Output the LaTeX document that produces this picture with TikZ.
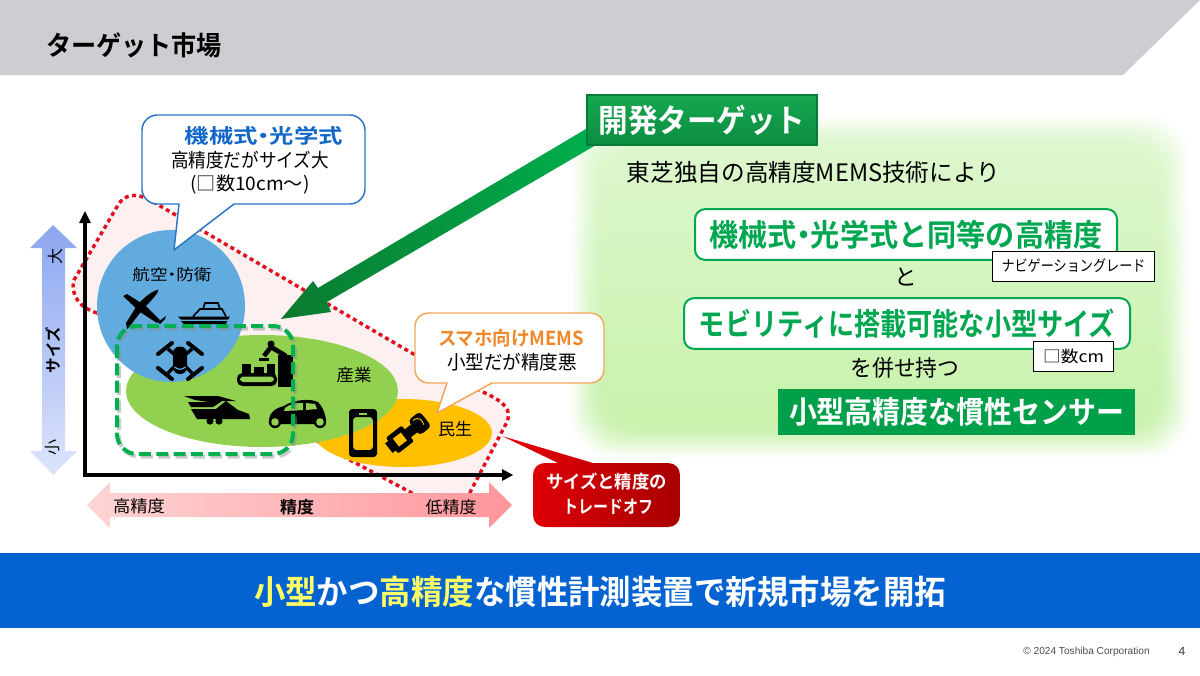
\documentclass[tikz,border=0pt]{standalone}
\usepackage{fontspec}
\usepackage{graphicx}
\setmainfont{Noto Sans CJK JP}[BoldFont={Noto Sans CJK JP Bold}]
\newfontfamily\footfont{Liberation Sans}
\newlength\fwl
\newcommand{\fw}[2]{\setlength{\fwl}{#1pt}\setlength{\fwl}{0.75\fwl}\resizebox{\fwl}{\height}{#2}}
\newcommand{\szz}[1]{\fontsize{#1}{#1}\selectfont}
\newcommand{\nd}{\hspace{-.26em}・\hspace{-.26em}}
\definecolor{bandblue}{HTML}{0563D1}
\definecolor{bannergray}{HTML}{CDCDD2}
\definecolor{tgreen}{HTML}{00A650}
\definecolor{dgreen}{HTML}{00B050}
\definecolor{sky}{HTML}{62ABDE}
\definecolor{leaf}{HTML}{92D050}
\definecolor{amber}{HTML}{FFC000}
\definecolor{glowT}{HTML}{DDF7CD}
\definecolor{glowB}{HTML}{C8F2AC}
\definecolor{calloutblue}{HTML}{2A74C8}
\definecolor{calloutorange}{HTML}{F2A65A}
\definecolor{titleblue}{HTML}{1167C8}
\definecolor{titleorange}{HTML}{F0882A}
\definecolor{dotred}{HTML}{E0101E}
\definecolor{pinkarea}{HTML}{FDF0F0}
\definecolor{sizetop}{HTML}{8CA5F0}
\definecolor{sizebot}{HTML}{DDE5FC}
\definecolor{accl}{HTML}{FFD4D4}
\definecolor{accr}{HTML}{FF969C}
\definecolor{arrl}{HTML}{0A7A30}
\definecolor{arrm}{HTML}{0C9A45}
\definecolor{arrr}{HTML}{00AF4E}
\definecolor{redl}{HTML}{E80008}
\definecolor{redr}{HTML}{A80000}
\definecolor{hdrt}{HTML}{16A850}
\definecolor{hdrb}{HTML}{0C8C42}
\definecolor{resgreen}{HTML}{00A04A}
\definecolor{bandyellow}{HTML}{FFFF66}
\tikzset{
  txt/.style={inner sep=0pt,outer sep=0pt,text=black},
  pill/.style={draw=tgreen,line width=1.5pt,fill=white,rounded corners=7.5pt},
  tag/.style={draw=black,line width=.7pt,fill=white},
  bluecall/.style={draw=calloutblue,line width=1.1pt,fill=white,line join=round},
  orangecall/.style={draw=calloutorange,line width=1.1pt,fill=white,line join=round},
}
\begin{document}
\begin{tikzpicture}[x=.75pt,y=-.75pt]
\useasboundingbox (0,0) rectangle (1200,675);
\fill[white] (0,0) rectangle (1200,675);
% banner
\fill[bannergray] (0,0) -- (1200,0) -- (1123,75) -- (0,75) -- cycle;
\node[txt,anchor=west] (title) at (46,45) {\szz{20pt}\bfseries\fw{176}{ターゲット市場}};
% glow panel
\foreach \i in {0,...,30}{
  \pgfmathsetmacro{\mix}{100*(sin(\i*3))^1.3}
  \pgfmathsetmacro{\inset}{\i*1.25}
  \path[top color=glowT!\mix!white,bottom color=glowB!\mix!white,rounded corners=32pt] (568+\inset,112+\inset) rectangle (1192-\inset,460-\inset);
}
% tradeoff area
\path[fill=pinkarea,draw=dotred,line width=2.6pt,dash pattern=on 3pt off 2.6pt]
  (97,313) .. controls (80,308) and (70,295) .. (74,280) -- (118,205) .. controls (124,195) and (135,192) .. (150,200)
  -- (410,352) -- (483,392) .. controls (505,402) and (512,410) .. (507,422) -- (466,500) -- (425,500) -- (350,460) -- cycle;
% ellipses
\fill[amber] (403,433) ellipse (89 and 34);
\fill[leaf] (262,391) ellipse (136 and 56);
\fill[sky] (171,306) ellipse (74 and 76);
% axes
\coordinate (origin) at (85,475);
\coordinate (ytip) at (85,211);
\coordinate (xtip) at (513,475);
\draw[line width=2.5pt] (85,476.7) -- (85,221);
\fill (ytip) -- (91,223) -- (79,223) -- cycle;
\draw[line width=2.5pt] (83.5,475) -- (503,475);
\fill (xtip) -- (502,469) -- (502,481) -- cycle;
% size arrow
\path[top color=sizetop,bottom color=sizebot]
  (53,225) -- (77,248) -- (65,248) -- (65,451) -- (77,451) -- (53,475) -- (30,451) -- (42,451) -- (42,248) -- (30,248) -- cycle;
\node[txt,rotate=90] (big) at (55,256) {\szz{12pt}大};
\node[txt,rotate=90] (sizew) at (53,350) {\szz{12pt}\bfseries\fw{46}{サイズ}};
\node[txt,rotate=90] (small) at (53,447) {\szz{12pt}小};
% accuracy arrow
\path[left color=accl,right color=accr]
  (87,505) -- (110,482) -- (110,493) -- (489,493) -- (489,482) -- (512,505) -- (489,528) -- (489,517) -- (110,517) -- (110,528) -- cycle;
\node[txt] (hi) at (139,506) {\szz{12.5pt}\fw{52}{高精度}};
\node[txt] (acc) at (297,507) {\szz{12.5pt}\bfseries\fw{34}{精度}};
\node[txt] (lo) at (451,507) {\szz{12.5pt}\fw{51}{低精度}};
% green arrow
\path[left color=arrl,middle color=arrm,right color=arrr]
  (281,319) -- (313,281) -- (318,288) -- (596,123) -- (596,145) -- (327,302) -- (331,312) -- cycle;
% plane
\fill (158,289.5) .. controls (160,292) and (148,304) .. (143,309) -- (130,326) -- (127,329) -- (126,323) -- (133,312) .. controls (138,302) and (150,292) .. (158,289.5) -- cycle;
\fill (123,296) -- (127,294) -- (146,306) -- (160,320) -- (157,323) -- (140,312) -- cycle;
\fill (158,322) -- (166,316) -- (165,319) -- (160,324) -- cycle;
% ship
\fill (178,316.5) -- (230,316.5) -- (228,319.5) -- (181,319.5) -- cycle;
\fill (181,321) -- (227,321) -- (226,324) -- (184,324) -- cycle;
\draw[line width=1.2pt] (193,316.5) -- (200,309) -- (222,309) -- (226,316.5);
\draw[line width=1.2pt] (203,309) -- (205,303) -- (218,303) -- (220,309);
% drone
\foreach \sx/\sy/\ex/\ey in {168/349/180/359, 192/349/180/359, 168/373/180/361, 192/373/180/361}{
  \draw[line width=2.6pt] (\sx,\sy) -- (\ex,\ey);
}
\foreach \px/\py/\qx/\qy in {158/354/172/343, 188/343/202/354, 158/368/172/379, 188/379/202/368}{
  \draw[line width=3pt,line cap=round] (\px,\py) -- (\qx,\qy);
}
\fill[rounded corners=5pt] (173,346.5) rectangle (187,374);
\draw[sky,line width=.9pt] (174.5,367) .. controls (178,370) and (182,370) .. (185.5,367);
% factory
\fill[rounded corners=4pt] (237,373) rectangle (277,386);
\fill[leaf,rounded corners=2.5pt] (240,376.5) rectangle (274,382);
\fill (242,364) rectangle (251,374);
\fill (254,367) rectangle (264,374);
\fill (267,364) rectangle (275,374);
\fill (278,355) rectangle (293,387);
\draw[line width=3.5pt,line join=round] (286,356) -- (271,347) -- (264,356);
\fill (259,357.5) rectangle (269,361);
\fill (271,344) circle (3.5);
% train
\fill (184,396) -- (218,396) -- (236,401) -- (222,401) -- (213,407) -- (191,407) -- (188,402) -- (209,402) -- (195,400) -- cycle;
\fill (191,409) -- (216,409) -- (226,401) -- (238,410) -- (249,414) -- (250,419) -- (197,419) -- cycle;
\fill (210,421) circle (3.6) (219,421) circle (3.6);
% car
\fill (269,419) .. controls (270,412) and (276,408) .. (284,406) .. controls (292,400) and (310,398) .. (318,402) .. controls (322,406) and (325,412) .. (326,420) -- (325,424) -- (270,424) -- cycle;
\fill[leaf] (285,408) .. controls (290,404) and (296,403) .. (303,403) -- (303,410) -- (284,411) -- cycle;
\fill[leaf] (306,403) -- (315,404) -- (317,409) -- (306,410) -- cycle;
\fill (275,422) circle (6.2) (320,422) circle (6.2);
\fill[leaf] (275,422) circle (3.8) (320,422) circle (3.8);
% phone
\fill[even odd rule,rounded corners=2.5pt] (349,409) rectangle (377,457) (353,417) rectangle (373,450);
\fill[leaf] (359,412.5) rectangle (367,414.5);
% wrist band
\begin{scope}[shift={(407,434)},rotate=38]
  \fill[rounded corners=1.5pt] (-19,-10) rectangle (1,10);
  \fill[amber] (-14,-5) rectangle (-4,5);
  \fill (-23,-6) rectangle (-18,6);
  \fill (0,-5) rectangle (11,5);
  \fill[rounded corners=3pt] (9,-10) rectangle (24,9);
  \draw[amber,line width=.7pt] (13,-7) .. controls (20,-7) and (21,-2) .. (19,3);
\end{scope}
% labels in clusters
\node[txt] (aero) at (172,275) {\szz{11.6pt}\fw{79}{航空\nd 防衛}};
\node[txt] (indus) at (354,375) {\szz{12.7pt}\fw{35}{産業}};
\node[txt] (cons) at (455,429) {\szz{12.7pt}\fw{34}{民生}};
% dashed target
\draw[black!45,opacity=.45,line width=3pt,rounded corners=15pt,dash pattern=on 9pt off 4pt] (119,328.5) rectangle (295,456.5);
\draw[dgreen,line width=3pt,rounded corners=15pt,dash pattern=on 9pt off 4pt] (117,326) rectangle (293,454);
% blue callout
\draw[bluecall]
  (157,115) -- (350,115) .. controls (358,115) and (365,122) .. (365,130) -- (365,189)
  .. controls (365,197) and (358,204) .. (350,204) -- (234,204) -- (174,250) -- (179,204) -- (157,204)
  .. controls (149,204) and (142,197) .. (142,189) -- (142,130)
  .. controls (142,122) and (149,115) .. (157,115) -- cycle;
\node[txt,text=titleblue] (b1) at (264,136) {\szz{15pt}\bfseries\fw{158}{機械式\nd 光学式}};
\node[txt] (b2) at (250,160) {\szz{14.5pt}\fw{158}{高精度だがサイズ大}};
\node[txt] (b3) at (250,184) {\szz{14pt}\fw{119}{(□数10cm〜)}};
% orange callout
\draw[orangecall]
  (428,313) -- (591,313) .. controls (598,313) and (604,319) .. (604,326) -- (604,370)
  .. controls (604,377) and (598,383) .. (591,383) -- (492,383) -- (437,413) -- (447,383) -- (428,383)
  .. controls (421,383) and (415,377) .. (415,370) -- (415,326)
  .. controls (415,319) and (421,313) .. (428,313) -- cycle;
\node[txt,text=titleorange] (o1) at (511,338) {\szz{14.5pt}\bfseries\fw{146}{スマホ向けMEMS}};
\node[txt] (o2) at (512,362) {\szz{14.5pt}\fw{130}{小型だが精度悪}};
% red callout
\path[left color=redl,right color=redr,line join=round]
  (545,463) -- (558,463) -- (502,436) -- (593,463) -- (668,463) .. controls (675,463) and (680,468) .. (680,475) -- (680,515)
  .. controls (680,522) and (675,527) .. (668,527) -- (545,527)
  .. controls (538,527) and (533,522) .. (533,515) -- (533,475)
  .. controls (533,468) and (538,463) .. (545,463) -- cycle;
\node[txt,text=white] (r1) at (606.5,482) {\szz{13.5pt}\bfseries\fw{121}{サイズと精度の}};
\node[txt,text=white] (r2) at (608,507) {\szz{13.5pt}\bfseries\fw{90}{トレードオフ}};
% target header
\node[draw=black!30!dgreen,line width=1.4pt,top color=hdrt,bottom color=hdrb,minimum width=173pt,minimum height=38pt,inner sep=0pt,text=white] (hdr) at (702,120) {\szz{24pt}\bfseries\fw{207}{開発ターゲット}};
\node[txt] (l1) at (813.5,172) {\szz{18pt}\fw{373}{東芝独自の高精度MEMS技術により}};
\node[pill,minimum width=316.5pt,minimum height=38pt,inner sep=0pt,text=tgreen] (p1) at (906,234.5) {\szz{23pt}\bfseries\fw{393}{機械式\nd 光学式と同等の高精度}};
\node[tag,minimum width=122pt,minimum height=22.5pt,inner sep=0pt] (t1) at (1073.5,266) {\szz{11.5pt}\fw{144}{ナビゲーショングレード}};
\node[txt] (and) at (906,277) {\szz{17pt}と};
\node[pill,minimum width=334.5pt,minimum height=38pt,inner sep=0pt,text=tgreen] (p2) at (907,323.5) {\szz{23pt}\bfseries\fw{416}{モビリティに搭載可能な小型サイズ}};
\node[tag,minimum width=60.5pt,minimum height=23pt,inner sep=0pt] (t2) at (1073.5,356.5) {\szz{12pt}\fw{61}{□数cm}};
\node[txt] (have) at (905,368) {\szz{17pt}\fw{109}{を併せ持つ}};
\node[fill=resgreen,minimum width=268pt,minimum height=34.5pt,inner sep=0pt,text=white] (res) at (956.5,412) {\szz{23pt}\bfseries\fw{335}{小型高精度な慣性センサー}};
% bottom band
\fill[bandblue] (0,553) rectangle (1200,628);
\node[txt,text=white] (band) at (600,592) {\szz{25pt}\bfseries\fw{692}{\textcolor{bandyellow}{小型}かつ\textcolor{bandyellow}{高精度}な慣性計測装置で新規市場を開拓}};
% footer
\node[txt,text=black!70] (copy) at (1086.5,652) {\footfont\szz{7.6pt}© 2024 Toshiba Corporation};
\node[txt,text=black!80] (pg) at (1182,651) {\footfont\szz{9pt}4};
\end{tikzpicture}
\end{document}
